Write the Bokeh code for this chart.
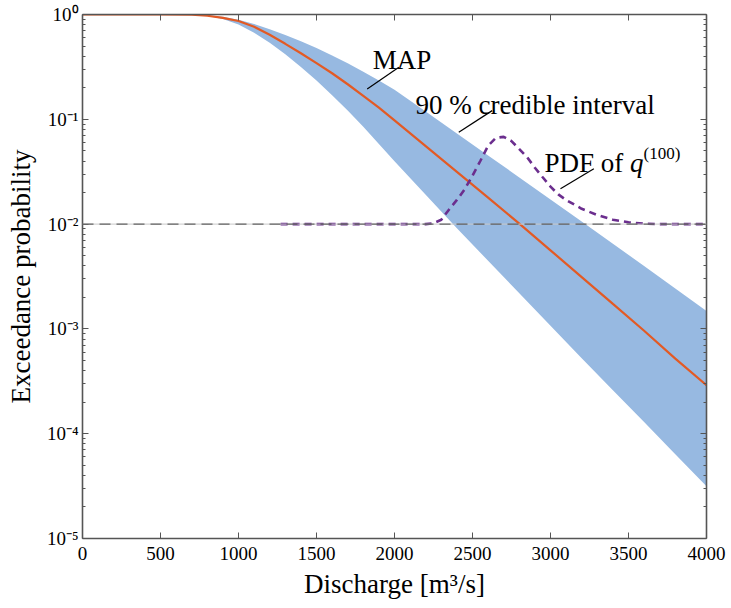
import numpy as np
from bokeh.plotting import figure
from bokeh.models import (Range1d, LogAxis, LinearAxis, FixedTicker, CustomJSTickFormatter,
                          Label, Span, ColumnDataSource)
from bokeh.embed import file_html
from bokeh.resources import INLINE

# ---------------- data ----------------
discharge = [0, 500, 700, 800, 900, 1000, 1100, 1200, 1300, 1400, 1500, 1600, 1700,
             1800, 1900, 2000, 2200, 2400, 2600, 2800, 3000, 3200, 3400, 3600, 3800, 4000]
map_prob = [1.0, 1.0, 0.998, 0.973, 0.929, 0.867, 0.764, 0.640, 0.525, 0.427, 0.344, 0.275,
            0.216, 0.1675, 0.129, 0.0975, 0.0555, 0.0315, 0.0179, 0.0101, 0.00562, 0.00312,
            0.00173, 0.00096, 0.00052, 0.00029]
upper_prob = [1.0, 1.0, 1.0, 0.986, 0.951, 0.891, 0.813, 0.724, 0.638, 0.556, 0.479, 0.407,
              0.343, 0.285, 0.234, 0.191, 0.119, 0.0733, 0.0452, 0.0279, 0.0172, 0.0106,
              0.00650, 0.00398, 0.00243, 0.00148]
lower_prob = [1.0, 1.0, 0.997, 0.965, 0.905, 0.804, 0.668, 0.537, 0.417, 0.316, 0.234, 0.170,
              0.121, 0.0851, 0.0582, 0.0398, 0.0191, 0.00912, 0.00447, 0.00219, 0.00107,
              0.000525, 0.00026, 0.000129, 0.0000638, 0.0000316]

pdf_q = [1270, 2200, 2250, 2300, 2350, 2400, 2450, 2500, 2550, 2600, 2650, 2700, 2750,
         2800, 2850, 2900, 2950, 3000, 3050, 3100, 3200, 3300, 3400, 3500, 3600, 3700, 4000]
pdf_val = [0.0100, 0.0100, 0.0102, 0.0110, 0.0138, 0.0170, 0.0215, 0.0290, 0.0400, 0.0560,
           0.0665, 0.0680, 0.0620, 0.0520, 0.0435, 0.0345, 0.0280, 0.0228, 0.0192, 0.0170,
           0.0140, 0.0122, 0.0110, 0.0104, 0.0101, 0.0100, 0.0100]

threshold = 0.01
x_ticks = [0, 500, 1000, 1500, 2000, 2500, 3000, 3500, 4000]
y_exponents = [-5, -4, -3, -2, -1, 0]

# ---------------- styling ----------------
FONT = "Liberation Serif"
AXIS_COLOR = "#555555"
MAP_COLOR = "#E35A24"
BAND_COLOR = "#97B9E1"
PDF_COLOR = "#6B2E8E"

p = figure(width=731, height=608, x_range=Range1d(0, 4000), y_range=Range1d(1e-5, 1.0),
           y_axis_type="log", output_backend="svg", toolbar_location=None,
           min_border_left=82, min_border_right=25, min_border_top=14, min_border_bottom=70)
p.outline_line_color = None
p.xgrid.visible = False
p.ygrid.visible = False
p.background_fill_color = "white"
p.border_fill_color = "white"

src = ColumnDataSource(dict(x=discharge, m=map_prob, up=upper_prob, lo=lower_prob))
p.varea(x="x", y1="lo", y2="up", source=src, fill_color=BAND_COLOR, fill_alpha=1.0)

p.add_layout(Span(location=threshold, dimension="width", line_color="#c8c8c8", line_width=1))
p.add_layout(Span(location=threshold, dimension="width", line_color="#444444",
                  line_width=1, line_dash="11 6"))

p.line(x="x", y="m", source=src, line_color=MAP_COLOR, line_width=2.2)
p.line(x=pdf_q, y=pdf_val, line_color=PDF_COLOR, line_width=2.6, line_dash="7 5")

# ticks
major_y = [10.0 ** e for e in y_exponents]
minor_y = [k * 10.0 ** e for e in y_exponents[:-1] for k in range(2, 10)]
y_ticker = FixedTicker(ticks=major_y, minor_ticks=minor_y)
x_ticker = FixedTicker(ticks=x_ticks)

fmt = CustomJSTickFormatter(code="""
const e = Math.round(Math.log10(tick));
const m = {"-": "\u207b", "0": "\u2070", "1": "\u00b9", "2": "\u00b2", "3": "\u00b3",
           "4": "\u2074", "5": "\u2075", "6": "\u2076", "7": "\u2077", "8": "\u2078", "9": "\u2079"};
return "10" + String(e).split("").map(c => m[c]).join("");
""")
blank = CustomJSTickFormatter(code="return '';")


def style_axis(ax):
    ax.axis_line_color = AXIS_COLOR
    ax.axis_line_width = 1.6
    ax.major_tick_line_color = AXIS_COLOR
    ax.minor_tick_line_color = AXIS_COLOR
    ax.major_tick_in = 6
    ax.major_tick_out = 0
    ax.minor_tick_in = 3
    ax.minor_tick_out = 0
    ax.major_label_text_font = FONT
    ax.major_label_text_font_size = "19px"
    ax.major_label_text_color = "black"
    ax.axis_label_text_font = FONT
    ax.axis_label_text_font_size = "27px"
    ax.axis_label_text_font_style = "normal"
    ax.axis_label_text_color = "black"


xa = p.xaxis[0]
style_axis(xa)
xa.ticker = x_ticker
xa.minor_tick_line_color = None
xa.axis_label = "Discharge [m\u00b3/s]"
xa.major_label_standoff = 8
xa.axis_label_standoff = 6

ya = p.yaxis[0]
style_axis(ya)
ya.ticker = y_ticker
ya.formatter = fmt
ya.axis_label = "Exceedance probability"
ya.major_label_standoff = 4
ya.axis_label_standoff = 8

top = LinearAxis(ticker=x_ticker, formatter=blank)
style_axis(top)
top.minor_tick_line_color = None
top.major_label_text_font_size = "8px"
top.major_label_standoff = 0
p.add_layout(top, "above")

right = LogAxis(ticker=y_ticker, formatter=blank)
style_axis(right)
right.major_label_text_font_size = "8px"
right.major_label_standoff = 0
p.add_layout(right, "right")

# annotations
def lab(text, x, y, size="27px", style="normal"):
    p.add_layout(Label(x=x, y=y, text=text, text_font=FONT, text_font_size=size,
                       text_font_style=style, text_color="black",
                       text_baseline="alphabetic", text_align="left"))

lab("MAP", 1860, 0.364)
lab("90 % credible interval", 2135, 0.138)
lab("PDF of", 2962, 0.0379)
lab("q", 3510, 0.0379, style="italic")
lab("(100)", 3596, 0.0472, size="17px")

lead = dict(x0=[2028, 2626, 3278], y0=[0.314, 0.121, 0.0337],
            x1=[1825, 2412, 3064], y1=[0.195, 0.0753, 0.0217])
p.segment(x0="x0", y0="y0", x1="x1", y1="y1", source=ColumnDataSource(lead),
          line_color="black", line_width=1.2)

open("out.html", "w").write(file_html(p, INLINE))
